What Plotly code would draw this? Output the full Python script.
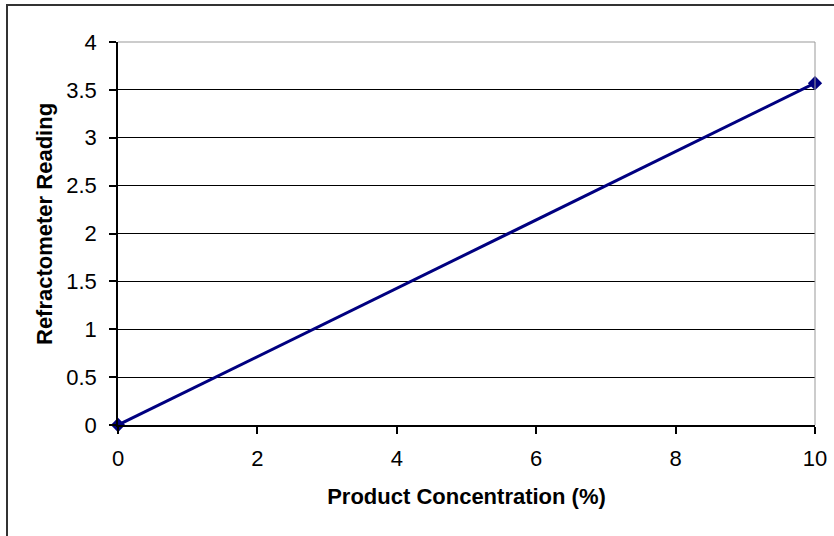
import plotly.graph_objects as go

concentration = [0, 10]
reading = [0, 3.57]
x_ticks = [0, 2, 4, 6, 8, 10]
y_ticks = [0, 0.5, 1, 1.5, 2, 2.5, 3, 3.5, 4]

L, R, T, B = 118, 815, 42, 425
W, H = 834, 536
pw, ph = R - L, B - T

def px(x):
    return (x - L) / pw

def py(y):
    return (B - y) / ph

fig = go.Figure()
fig.add_trace(go.Scatter(
    x=concentration, y=reading, mode="lines+markers",
    line=dict(color="#000080", width=3),
    marker=dict(symbol="diamond", size=11, color="#000080"),
    cliponaxis=False, showlegend=False))

font = dict(family="Liberation Sans, Arial, sans-serif", size=22, color="black")
fig.update_layout(
    width=W, height=H,
    margin=dict(l=L, r=W - R, t=T, b=H - B, autoexpand=False),
    paper_bgcolor="white", plot_bgcolor="white",
    font=font,
    xaxis=dict(range=[0, 10], tickvals=x_ticks, ticks="outside", automargin=False,
               ticklen=7, tickcolor="black", tickwidth=1.5, showgrid=False, zeroline=False,
               showline=True, linecolor="black", linewidth=1.5,
               ticklabelstandoff=6,
               title=dict(text="<b>Product Concentration (%)</b>", standoff=18,
                          font=dict(size=22))),
    yaxis=dict(range=[0, 4], tickvals=y_ticks, automargin=False,
               ticks="outside", ticklen=7, tickcolor="black", tickwidth=1.5,
               showgrid=True, gridcolor="black", gridwidth=1, zeroline=False,
               showline=True, linecolor="black", linewidth=1.5,
               ticklabelstandoff=8),
    annotations=[
        dict(text="<b>Refractometer Reading</b>", xref="paper", yref="paper",
             x=px(44), y=py(224), textangle=-90, showarrow=False,
             xanchor="center", yanchor="middle", font=dict(size=22)),
    ],
    shapes=[
        dict(type="line", xref="paper", yref="paper", x0=0, x1=1, y0=1, y1=1,
             line=dict(color="#999999", width=1)),
        dict(type="line", xref="paper", yref="paper", x0=1, x1=1, y0=0, y1=1,
             line=dict(color="#999999", width=1)),
        dict(type="rect", xref="paper", yref="paper",
             x0=px(7), x1=px(845), y0=py(545), y1=py(5),
             line=dict(color="#333333", width=2), fillcolor="rgba(0,0,0,0)"),
    ],
)
fig.write_html("out.html", config={"displayModeBar": False},
               post_script="document.body.style.margin='0';")
